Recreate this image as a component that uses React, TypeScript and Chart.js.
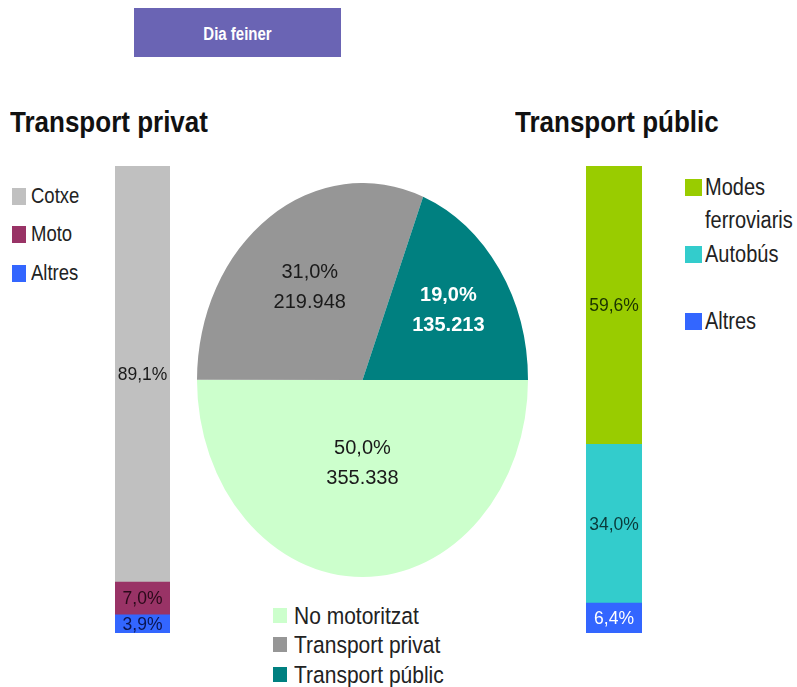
import React, { useEffect, useRef } from "react";
import { Chart, registerables } from "chart.js";

Chart.register(...registerables);

// ---------- data ----------
const chartTitle = "Dia feiner";

const pieCategories = ["No motoritzat", "Transport privat", "Transport públic"];
const pieValues = [355338, 219948, 135213];
const pieColors = ["#ccffcc", "#969696", "#008080"];
const pieLabelColors = ["#1a1a1a", "#1a1a1a", "#ffffff"];

const privateTitle = "Transport privat";
const privateCategories = ["Cotxe", "Moto", "Altres"];
const privateShares = [89.1, 7.0, 3.9];
const privateColors = ["#c0c0c0", "#993366", "#3366ff"];
const privateLabelColors = ["#1a1a1a", "#2a0a1a", "#0a1450"];

const publicTitle = "Transport públic";
const publicCategories = ["Modes ferroviaris", "Autobús", "Altres"];
const publicShares = [59.6, 34.0, 6.4];
const publicColors = ["#99cc00", "#33cccc", "#3366ff"];
const publicLabelColors = ["#1a3300", "#0a3a3a", "#ffffff"];

// ---------- helpers ----------
const FONT = '"Liberation Sans", Arial, Helvetica, sans-serif';
const fmtPct = (v: number) => v.toFixed(1).replace(".", ",") + "%";
const fmtInt = (n: number) => String(n).replace(/\B(?=(\d{3})+(?!\d))/g, ".");

type TextProps = {
  x: number;
  cy: number;
  size: number;
  sy?: number;
  bold?: boolean;
  color?: string;
  lineHeight?: number;
  width?: number;
  align?: "left" | "center";
  children: React.ReactNode;
};

function Text({ x, cy, size, sy = 1, bold = false, color = "#1a1a1a", lineHeight, width, align = "left", children }: TextProps) {
  const L = lineHeight ?? size;
  return (
    <div
      style={{
        position: "absolute",
        left: x,
        top: cy - L / 2,
        width,
        fontFamily: FONT,
        fontSize: size,
        lineHeight: L + "px",
        fontWeight: bold ? 700 : 400,
        color,
        textAlign: align,
        whiteSpace: width ? "normal" : "nowrap",
        transform: `scaleY(${sy})`,
        transformOrigin: `0 ${L / 2}px`,
      }}
    >
      {children}
    </div>
  );
}

type LegendProps = {
  items: string[];
  colors: string[];
  x: number;
  firstY: number;
  step: number;
  sqW: number;
  sqH: number;
  gap: number;
  size: number;
  sy: number;
  lineHeight?: number;
  textWidth?: number;
};

function Legend({ items, colors, x, firstY, step, sqW, sqH, gap, size, sy, lineHeight, textWidth }: LegendProps) {
  return (
    <>
      {items.map((it, i) => {
        const cy = firstY + i * step;
        return (
          <React.Fragment key={it}>
            <div
              style={{
                position: "absolute",
                left: x,
                top: cy - sqH / 2,
                width: sqW,
                height: sqH,
                background: colors[i],
              }}
            />
            <Text x={x + sqW + gap} cy={cy} size={size} sy={sy} color="#222" lineHeight={lineHeight} width={textWidth}>
              {it}
            </Text>
          </React.Fragment>
        );
      })}
    </>
  );
}

type BarProps = {
  categories: string[];
  shares: number[];
  colors: string[];
  labelColors: string[];
  left: number;
  top: number;
  width: number;
  height: number;
};

function StackedBar({ categories, shares, colors, labelColors, left, top, width, height }: BarProps) {
  const ref = useRef<HTMLCanvasElement>(null);
  useEffect(() => {
    if (!ref.current) return;
    // first category on top => stack in reverse order
    const order = categories.map((_, i) => i).reverse();
    const chart = new Chart(ref.current, {
      type: "bar",
      data: {
        labels: [""],
        datasets: order.map((i) => ({
          label: categories[i],
          data: [shares[i]],
          backgroundColor: colors[i],
          borderWidth: 0,
          barPercentage: 1,
          categoryPercentage: 1,
        })),
      },
      options: {
        responsive: false,
        animation: false,
        events: [],
        devicePixelRatio: 1,
        layout: { padding: 0 },
        plugins: { legend: { display: false }, tooltip: { enabled: false } },
        scales: {
          x: { display: false, stacked: true },
          y: { display: false, stacked: true, min: 0, max: 100 },
        },
      },
      plugins: [
        {
          id: "segLabels",
          afterDatasetsDraw(c: any) {
            const ctx = c.ctx;
            ctx.save();
            ctx.font = `17.5px ${FONT}`;
            ctx.textAlign = "center";
            ctx.textBaseline = "middle";
            c.data.datasets.forEach((_: any, di: number) => {
              const el = c.getDatasetMeta(di).data[0];
              const p = el.getProps(["x", "y", "base"], true);
              const i = order[di];
              ctx.fillStyle = labelColors[i];
              ctx.fillText(fmtPct(shares[i]), p.x, (p.y + p.base) / 2 + 1);
            });
            ctx.restore();
          },
        },
      ],
    } as any);
    return () => chart.destroy();
  }, []);
  return (
    <canvas
      ref={ref}
      width={width}
      height={height}
      style={{ position: "absolute", left, top, width, height }}
    />
  );
}

function EllipsePie({ left, top, width, height }: { left: number; top: number; width: number; height: number }) {
  const ref = useRef<HTMLCanvasElement>(null);
  useEffect(() => {
    if (!ref.current) return;
    const total = pieValues.reduce((a, b) => a + b, 0);
    let cx = 0,
      cy = 0,
      sy = 1;
    const chart = new Chart(ref.current, {
      type: "pie",
      data: {
        labels: pieCategories,
        datasets: [
          {
            data: pieValues,
            backgroundColor: pieColors,
            borderWidth: 0,
            hoverOffset: 0,
          },
        ],
      },
      options: {
        responsive: false,
        animation: false,
        events: [],
        devicePixelRatio: 1,
        rotation: 90,
        layout: { padding: 0 },
        plugins: { legend: { display: false }, tooltip: { enabled: false } },
      },
      plugins: [
        {
          id: "ellipse",
          beforeDatasetsDraw(c: any) {
            const a = c.chartArea;
            cx = (a.left + a.right) / 2;
            cy = (a.top + a.bottom) / 2;
            sy = (a.bottom - a.top) / (a.right - a.left);
            const ctx = c.ctx;
            ctx.save();
            ctx.translate(cx, cy);
            ctx.scale(1, sy);
            ctx.translate(-cx, -cy);
          },
          afterDatasetsDraw(c: any) {
            const ctx = c.ctx;
            ctx.restore();
            ctx.save();
            ctx.textAlign = "center";
            ctx.textBaseline = "middle";
            const meta = c.getDatasetMeta(0);
            meta.data.forEach((el: any, i: number) => {
              const p = el.getProps(["startAngle", "endAngle", "outerRadius", "x", "y"], true);
              const half = (p.endAngle - p.startAngle) / 2;
              const mid = (p.startAngle + p.endAngle) / 2;
              const d = (2 * p.outerRadius * Math.sin(half)) / (3 * half);
              const lx = p.x + d * Math.cos(mid);
              const ly = p.y + sy * d * Math.sin(mid);
              ctx.fillStyle = pieLabelColors[i];
              ctx.font = `${i === 2 ? "bold " : ""}20px ${FONT}`;
              ctx.fillText(fmtPct((pieValues[i] / total) * 100), lx, ly - 15);
              ctx.fillText(fmtInt(pieValues[i]), lx, ly + 15);
            });
            ctx.restore();
          },
        },
      ],
    } as any);
    return () => chart.destroy();
  }, []);
  return (
    <canvas
      ref={ref}
      width={width}
      height={height}
      style={{ position: "absolute", left, top, width, height }}
    />
  );
}

export default function App() {
  return (
    <div
      style={{
        position: "fixed",
        left: 0,
        top: 0,
        width: 797,
        height: 687,
        background: "#ffffff",
        overflow: "hidden",
      }}
    >
      {/* title box */}
      <div style={{ position: "absolute", left: 134, top: 8, width: 207, height: 49, background: "#6a64b4" }} />
      <Text x={134} width={207} align="center" cy={33} size={15} sy={1.2} bold color="#ffffff">
        {chartTitle}
      </Text>

      {/* section headings */}
      <Text x={10} cy={121} size={26} sy={1.17} bold color="#111">
        {privateTitle}
      </Text>
      <Text x={515} cy={121} size={26} sy={1.17} bold color="#111">
        {publicTitle}
      </Text>

      {/* left legend */}
      <Legend
        items={privateCategories}
        colors={privateColors}
        x={12}
        firstY={196}
        step={38.5}
        sqW={14}
        sqH={17}
        gap={5}
        size={18.5}
        sy={1.15}
      />

      {/* right legend */}
      <Legend
        items={publicCategories}
        colors={publicColors}
        x={685}
        firstY={187}
        step={67}
        sqW={17}
        sqH={17}
        gap={3}
        size={20}
        sy={1.15}
        lineHeight={29}
        textWidth={95}
      />

      {/* pie legend */}
      <Legend
        items={pieCategories}
        colors={pieColors}
        x={273}
        firstY={615}
        step={29.5}
        sqW={14}
        sqH={15}
        gap={7}
        size={21}
        sy={1.1}
      />

      <StackedBar
        categories={privateCategories}
        shares={privateShares}
        colors={privateColors}
        labelColors={privateLabelColors}
        left={115}
        top={166}
        width={55}
        height={467}
      />
      <EllipsePie left={197} top={183} width={331} height={394} />
      <StackedBar
        categories={publicCategories}
        shares={publicShares}
        colors={publicColors}
        labelColors={publicLabelColors}
        left={586}
        top={166}
        width={56}
        height={467}
      />
    </div>
  );
}
